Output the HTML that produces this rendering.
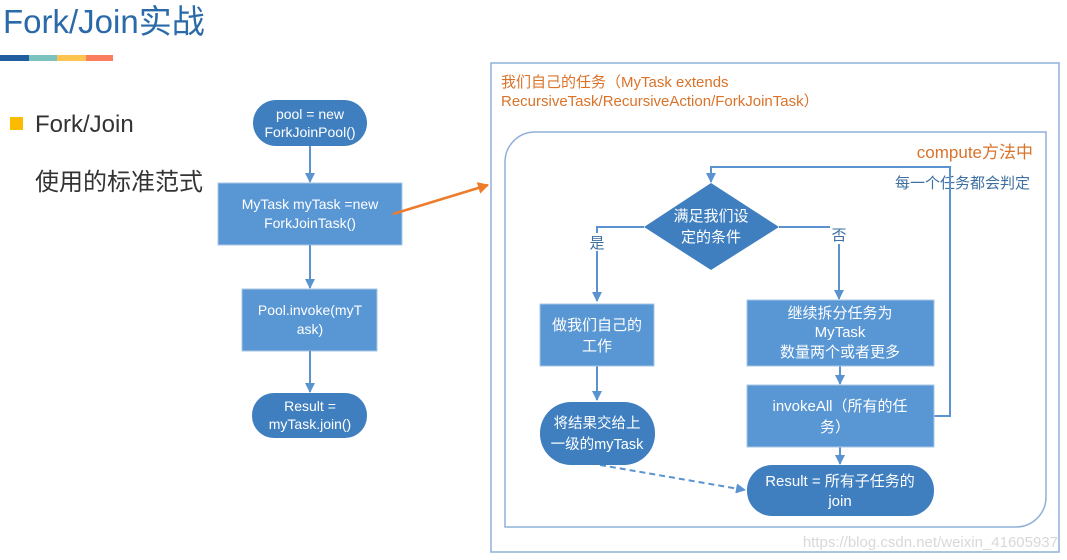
<!DOCTYPE html>
<html><head><meta charset="utf-8"><style>
html,body{margin:0;padding:0;background:#fff;}
svg{display:block;font-family:"Liberation Sans","Noto Sans CJK SC",sans-serif;}
</style></head><body>
<svg width="1067" height="560" viewBox="0 0 1067 560" xmlns="http://www.w3.org/2000/svg">
<defs>
<marker id="ar" markerWidth="10" markerHeight="10" refX="9" refY="5" orient="auto" markerUnits="userSpaceOnUse"><path d="M0,0 L10,5 L0,10 z" fill="#5a93cf"/></marker>
<marker id="ao" markerWidth="12" markerHeight="12" refX="10" refY="6" orient="auto" markerUnits="userSpaceOnUse"><path d="M0,0 L11,6 L0,12 z" fill="#ee7c2c"/></marker>
</defs>
<text x="3" y="33" font-size="33" fill="#2a6aa8">Fork/Join实战</text>
<rect x="0" y="55" width="29" height="6" fill="#1f5fa0"/>
<rect x="29" y="55" width="28" height="6" fill="#7cc3c0"/>
<rect x="57" y="55" width="29" height="6" fill="#fdc44f"/>
<rect x="86" y="55" width="27" height="6" fill="#fa7d5e"/>
<rect x="10" y="117" width="13" height="13" fill="#fbbb00"/>
<text x="35" y="132" font-size="24" fill="#333">Fork/Join</text>
<text x="35" y="190" font-size="24" fill="#333">使用的标准范式</text>

<g font-size="14" fill="#fff" text-anchor="middle">
<rect x="253" y="100" width="114" height="46" rx="23" fill="#3f7fbf"/>
<text x="310" y="119">pool = new</text><text x="310" y="137">ForkJoinPool()</text>
<line x1="310" y1="146" x2="310" y2="182" stroke="#5a93cf" stroke-width="2" marker-end="url(#ar)"/>
<rect x="218" y="183" width="184" height="62" fill="#5896d4" stroke="#a9c6e6"/>
<text x="310" y="209">MyTask myTask =new</text><text x="310" y="228">ForkJoinTask()</text>
<line x1="310" y1="245" x2="310" y2="288" stroke="#5a93cf" stroke-width="2" marker-end="url(#ar)"/>
<rect x="242" y="289" width="135" height="62" fill="#5896d4" stroke="#a9c6e6"/>
<text x="310" y="315">Pool.invoke(myT</text><text x="310" y="334">ask)</text>
<line x1="310" y1="351" x2="310" y2="392" stroke="#5a93cf" stroke-width="2" marker-end="url(#ar)"/>
<rect x="252" y="393" width="115" height="45" rx="22" fill="#3f7fbf"/>
<text x="310" y="411">Result =</text><text x="310" y="429">myTask.join()</text>
</g>
<line x1="393" y1="214" x2="488" y2="185" stroke="#ee7c2c" stroke-width="2.5" marker-end="url(#ao)"/>

<rect x="491" y="63" width="568" height="489" fill="none" stroke="#8eb0d8" stroke-width="1.5"/>
<text x="501" y="87" font-size="15" fill="#d9732a">我们自己的任务（MyTask extends</text>
<text x="501" y="106" font-size="15" fill="#d9732a">RecursiveTask/RecursiveAction/ForkJoinTask）</text>
<path d="M535,132 H1046 V497 A30,30 0 0 1 1016,527 H505 V162 A30,30 0 0 1 535,132 Z" fill="none" stroke="#8eb0d8" stroke-width="1.5"/>
<text x="1033" y="158" font-size="17" fill="#d9732a" text-anchor="end">compute方法中</text>
<text x="1030" y="188" font-size="15" fill="#3d6fa0" text-anchor="end">每一个任务都会判定</text>

<g stroke="#5a93cf" stroke-width="2" fill="none">
<polyline points="934,416 950,416 950,167 711,167 711,182" marker-end="url(#ar)"/>
<polyline points="644,227 597,227 597,301" marker-end="url(#ar)"/>
<polyline points="779,227 839,227 839,299" marker-end="url(#ar)"/>
<line x1="597" y1="366" x2="597" y2="400" marker-end="url(#ar)"/>
<line x1="840" y1="366" x2="840" y2="384" marker-end="url(#ar)"/>
<line x1="840" y1="447" x2="840" y2="464" marker-end="url(#ar)"/>
<line x1="600" y1="465" x2="745" y2="490" stroke-dasharray="6,4" marker-end="url(#ar)"/>
</g>
<rect x="588" y="233" width="18" height="18" fill="#fff"/>
<text x="597" y="248" font-size="15" fill="#3d6fa0" text-anchor="middle">是</text>
<rect x="830" y="226" width="18" height="18" fill="#fff"/>
<text x="839" y="240" font-size="15" fill="#3d6fa0" text-anchor="middle">否</text>

<g font-size="15" fill="#fff" text-anchor="middle">
<polygon points="711,183 779,227 711,270 644,227" fill="#3f7fbf"/>
<text x="711" y="221">满足我们设</text><text x="711" y="242">定的条件</text>
<rect x="540" y="304" width="114" height="62" fill="#5896d4" stroke="#a9c6e6"/>
<text x="597" y="330">做我们自己的</text><text x="597" y="351">工作</text>
<rect x="540" y="402" width="115" height="63" rx="31" fill="#3f7fbf"/>
<text x="597" y="428" font-size="14.5">将结果交给上</text><text x="597" y="449" font-size="14.5">一级的myTask</text>
<rect x="747" y="300" width="187" height="66" fill="#5896d4" stroke="#a9c6e6"/>
<text x="840" y="318">继续拆分任务为</text><text x="840" y="337">MyTask</text><text x="840" y="357">数量两个或者更多</text>
<rect x="747" y="385" width="187" height="62" fill="#5896d4" stroke="#a9c6e6"/>
<text x="840" y="411">invokeAll（所有的任</text><text x="835" y="432">务）</text>
<rect x="747" y="465" width="187" height="51" rx="25" fill="#3f7fbf"/>
<text x="840" y="486">Result = 所有子任务的</text><text x="840" y="506">join</text>
</g>
<text x="1058" y="547" font-size="15" fill="#d8d8d8" text-anchor="end">https://blog.csdn.net/weixin_41605937</text>
</svg>
</body></html>
